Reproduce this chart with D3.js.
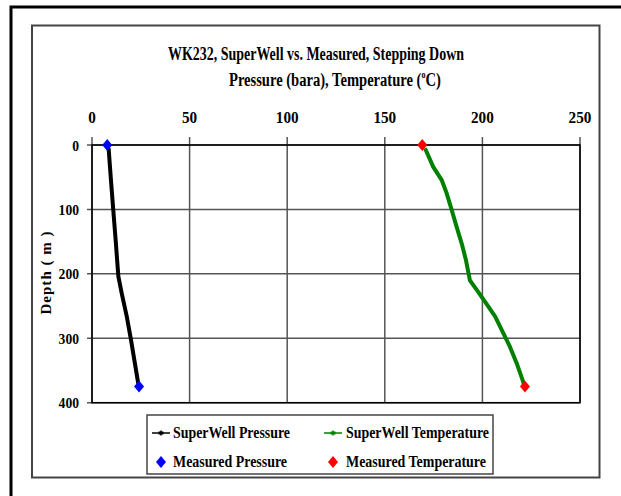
<!DOCTYPE html>
<meta charset="utf-8">
<style>
body { margin: 0; background: #fff; }
svg text { font-family: "Liberation Serif", "Times New Roman", serif; font-weight: bold; fill: #000; }
.grid line { stroke: #555; stroke-width: 1.5px; }
.frame { fill: none; stroke: #000; stroke-width: 1.5px; }
</style>
<body>
<script src="https://d3js.org/d3.v7.min.js"></script>
<script>

// depth (m) and values
var swPressureDepth = [5, 13, 54, 101, 147, 204, 230, 266, 303, 334, 365, 372];
var swPressure      = [8.5, 8.7, 9.7, 10.9, 12.1, 13.5, 15.2, 17.8, 20.0, 21.7, 23.4, 23.8];

var swTempDepth = [5, 34, 54, 75, 101, 127, 153, 179, 210, 225, 243, 266, 292, 313, 339, 365, 372];
var swTemp      = [170.6, 174.8, 179.1, 181.7, 184.3, 186.8, 189.4, 191.6, 193.6, 197.1, 201.3, 206.5, 210.7, 214.1, 217.6, 220.6, 221.3];

var measDepth    = [0, 375];
var measPressure = [7.8, 24.1];
var measTemp     = [169.2, 221.8];

var xTicks = [0, 50, 100, 150, 200, 250];
var yTicks = [0, 100, 200, 300, 400];

var W = 621, H = 496;
var svg = d3.select("body").append("svg")
    .attr("width", W)
    .attr("height", H);

// outer frame (runs off the right and bottom edges) and chart area frame
svg.append("rect").attr("x", 11).attr("y", 7).attr("width", 640).attr("height", 520)
    .attr("fill", "none").attr("stroke", "#000").attr("stroke-width", 3);
svg.append("rect").attr("x", 32).attr("y", 25.5).attr("width", 567.5).attr("height", 452)
    .attr("fill", "none").attr("stroke", "#444").attr("stroke-width", 2);

var x = d3.scaleLinear().domain([0, 250]).range([92, 580]);
var y = d3.scaleLinear().domain([0, 400]).range([145, 402.7]);

// titles
svg.append("text").attr("x", 168).attr("y", 60)
    .attr("font-size", 18).attr("textLength", 296).attr("lengthAdjust", "spacingAndGlyphs")
    .text("WK232, SuperWell vs. Measured, Stepping Down");

// subtitle with superscript, squeezed to the reference width with a scale
var subG = svg.append("g");
var sub = subG.append("text").attr("font-size", 18);
sub.append("tspan").text("Pressure (bara), Temperature (");
sub.append("tspan").attr("dy", -8).attr("font-size", 10).text("o");
sub.append("tspan").attr("dy", 8).text("C)");
var subW = sub.node().getBBox().width;
subG.attr("transform", "translate(229,86) scale(" + (212 / subW) + ",1)");

// grid
var grid = svg.append("g").attr("class", "grid");
grid.selectAll(".vx").data(xTicks).enter().append("line")
    .attr("x1", d => x(d)).attr("x2", d => x(d))
    .attr("y1", y(0) - 8).attr("y2", y(400));
grid.selectAll(".hy").data(yTicks).enter().append("line")
    .attr("x1", x(0) - 5).attr("x2", x(250))
    .attr("y1", d => y(d)).attr("y2", d => y(d));

svg.append("rect").attr("class", "frame")
    .attr("x", x(0)).attr("y", y(0))
    .attr("width", x(250) - x(0)).attr("height", y(400) - y(0));

// tick labels
svg.selectAll(".xl").data(xTicks).enter().append("text")
    .attr("x", d => x(d)).attr("y", 123)
    .attr("text-anchor", "middle").attr("font-size", 17.5)
    .attr("textLength", d => String(d).length * 7.6).attr("lengthAdjust", "spacingAndGlyphs")
    .text(d => d);

svg.selectAll(".yl").data(yTicks).enter().append("text")
    .attr("x", 79).attr("y", d => y(d) + 5.5)
    .attr("text-anchor", "end").attr("font-size", 15.5)
    .attr("textLength", d => String(d).length * 6.8).attr("lengthAdjust", "spacingAndGlyphs")
    .text(d => d);

svg.append("text")
    .attr("transform", "translate(51," + 273 + ") rotate(-90)")
    .attr("text-anchor", "middle").attr("font-size", 15)
    .attr("textLength", 83).attr("lengthAdjust", "spacing")
    .text("Depth ( m )");

// series
var line = d3.line().x(d => x(d[0])).y(d => y(d[1]));

svg.append("path")
    .datum(d3.zip(swPressure, swPressureDepth))
    .attr("d", line)
    .attr("fill", "none").attr("stroke", "#000").attr("stroke-width", 4)
    .attr("stroke-linejoin", "round");

svg.append("path")
    .datum(d3.zip(swTemp, swTempDepth))
    .attr("d", line)
    .attr("fill", "none").attr("stroke", "#008000").attr("stroke-width", 4)
    .attr("stroke-linejoin", "round");

function diamond(cx, cy) {
  return "M" + cx + "," + (cy - 6) + "L" + (cx + 5) + "," + cy +
         "L" + cx + "," + (cy + 6) + "L" + (cx - 5) + "," + cy + "Z";
}

svg.selectAll(".mp").data(d3.zip(measPressure, measDepth)).enter().append("path")
    .attr("d", d => diamond(x(d[0]), y(d[1])))
    .attr("fill", "#0000ff");

svg.selectAll(".mt").data(d3.zip(measTemp, measDepth)).enter().append("path")
    .attr("d", d => diamond(x(d[0]), y(d[1])))
    .attr("fill", "#ff0000");

// legend
var lg = svg.append("g");
lg.append("rect").attr("x", 147).attr("y", 415).attr("width", 346).attr("height", 59)
    .attr("fill", "#fff").attr("stroke", "#444").attr("stroke-width", 1.5);

var legendItems = [
  {label: "SuperWell Pressure", color: "#000", kind: "line", lx: 152, tx: 173, by: 438, w: 117},
  {label: "SuperWell Temperature", color: "#008000", kind: "line", lx: 324, tx: 346, by: 438, w: 143},
  {label: "Measured Pressure", color: "#0000ff", kind: "dia", lx: 152, tx: 173, by: 467, w: 114},
  {label: "Measured Temperature", color: "#ff0000", kind: "dia", lx: 324, tx: 346, by: 467, w: 140}
];

legendItems.forEach(function(d) {
  var cy = d.by - 5;
  if (d.kind === "line") {
    lg.append("line").attr("x1", d.lx).attr("x2", d.lx + 18).attr("y1", cy).attr("y2", cy)
        .attr("stroke", d.color).attr("stroke-width", 1.5);
    lg.append("line").attr("x1", d.lx + 9).attr("x2", d.lx + 9).attr("y1", cy - 2.5).attr("y2", cy + 2.5)
        .attr("stroke", d.color).attr("stroke-width", 1.5);
    lg.append("line").attr("x1", d.lx + 6.5).attr("x2", d.lx + 11.5).attr("y1", cy).attr("y2", cy)
        .attr("stroke", d.color).attr("stroke-width", 3);
  } else {
    lg.append("path").attr("d", diamond(d.lx + 9, cy)).attr("fill", d.color);
  }
  lg.append("text").attr("x", d.tx).attr("y", d.by)
      .attr("font-size", 17).attr("textLength", d.w).attr("lengthAdjust", "spacingAndGlyphs")
      .text(d.label);
});

</script>
</body>
